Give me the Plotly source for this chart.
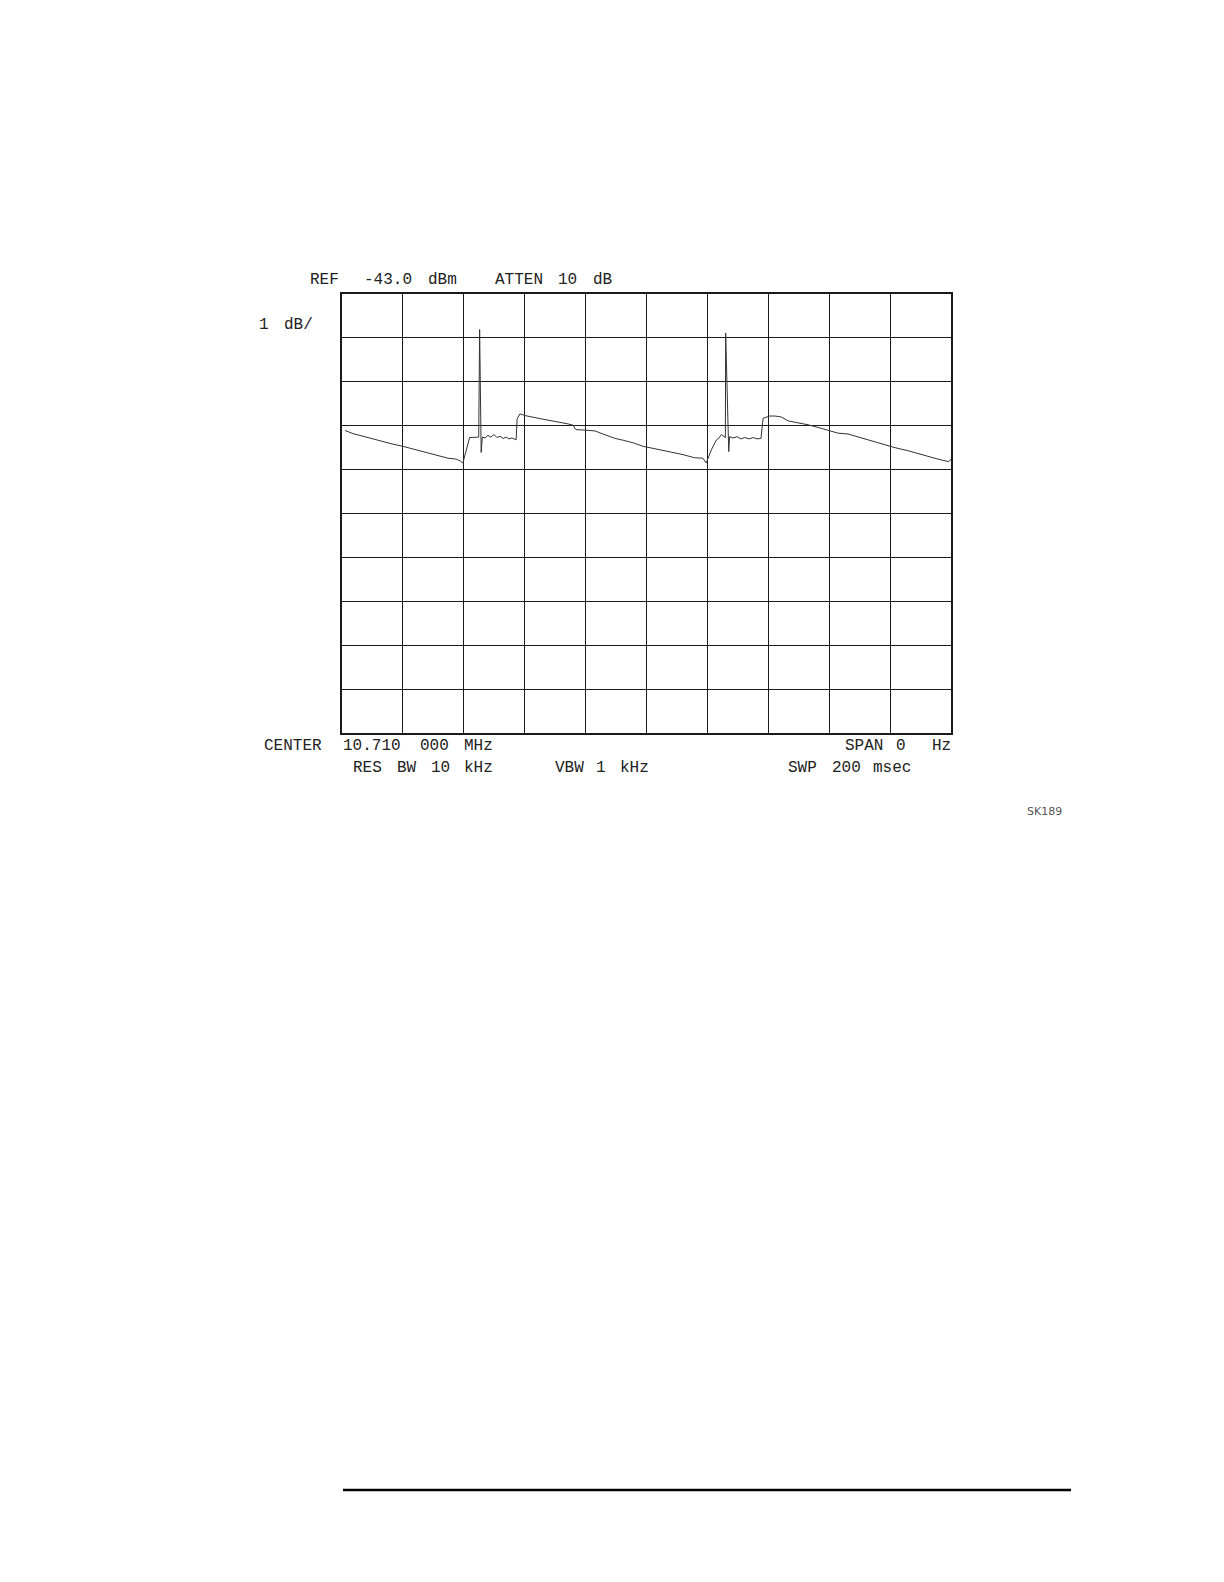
import plotly.graph_objects as go

# ---------------------------------------------------------------------------
# Zero-span trace (time in ms, level in dBm)
# ---------------------------------------------------------------------------
time_ms = [
    1.0, 3.6, 6.9, 10.2, 13.5, 16.7, 20.0, 23.3, 26.6, 29.9, 33.2, 34.8, 37.4, 38.8, 39.7,
    41.9, 44.9, 45.2, 45.7, 46.1,
    47.0, 47.9, 48.9, 49.9, 50.9, 51.9, 52.9, 53.9, 54.8, 55.8, 57.2,
    57.5, 58.4, 60.2, 64.4, 67.7, 71.0, 74.3, 75.9, 76.8, 79.8, 83.1, 85.7, 89.7, 92.3,
    95.6, 98.9, 100.5, 103.8, 108.0, 112.0, 115.8, 118.5, 119.6,
    121.3, 122.9, 123.8, 124.6, 125.9, 126.0, 127.0, 127.3,
    128.4, 129.7, 131.0, 132.3, 133.7, 135.0, 136.3, 137.6,
    138.3, 140.5, 142.2, 144.2, 146.5, 149.8, 153.1, 157.4, 160.3, 162.9, 166.2, 170.1,
    173.7, 177.7, 181.6, 185.9, 190.2, 194.1, 197.4, 199.3, 200.0,
]
level_dbm = [
    -46.11, -46.18, -46.24, -46.30, -46.37, -46.42, -46.47, -46.53, -46.58, -46.64, -46.70, -46.74, -46.76, -46.80, -46.85,
    -46.27, -46.26, -43.81, -46.61, -46.26,
    -46.28, -46.22, -46.26, -46.20, -46.27, -46.24, -46.29, -46.26, -46.30, -46.28, -46.32,
    -45.85, -45.73, -45.77, -45.83, -45.87, -45.91, -45.96, -45.99, -46.09, -46.10, -46.12, -46.19, -46.29, -46.33,
    -46.39, -46.47, -46.49, -46.53, -46.60, -46.66, -46.73, -46.74, -46.85,
    -46.55, -46.33, -46.28, -46.20, -46.27, -43.89, -46.59, -46.25,
    -46.28, -46.25, -46.30, -46.27, -46.30, -46.27, -46.30, -46.29,
    -45.83, -45.78, -45.78, -45.80, -45.89, -45.93, -45.98, -46.06, -46.12, -46.17, -46.19, -46.27,
    -46.35, -46.42, -46.50, -46.57, -46.66, -46.73, -46.79, -46.82, -46.76,
]

REF_LEVEL = -43.0
DB_PER_DIV = 1
SWEEP_MS = 200

# screen annotation text (token, centre x px, centre y px)
header_tokens = [("REF", 316, 272), ("-43.0", 380, 272), ("dBm", 434, 272),
                 ("ATTEN", 511, 272), ("10", 559, 272), ("dB", 594, 272)]
scale_tokens = [("1", 256, 317), ("dB/", 290, 317)]
footer_tokens = [("CENTER", 285, 738), ("10.710", 364, 738), ("000", 426, 738), ("MHz", 470, 738),
                 ("SPAN", 856, 738), ("0", 893, 738), ("Hz", 933, 738),
                 ("RES", 359, 760), ("BW", 399, 760), ("10", 432, 760), ("kHz", 470, 760),
                 ("VBW", 561, 760), ("1", 593, 760), ("kHz", 626, 760),
                 ("SWP", 794, 760), ("200", 838, 760), ("msec", 884, 760)]

# page geometry (px)
W, H = 1224, 1582
PLOT_L, PLOT_R, PLOT_T, PLOT_B = 334, 943, 286, 725


def px_x(px):
    return (px - PLOT_L) / (PLOT_R - PLOT_L)


def px_y(py):
    return (PLOT_B - py) / (PLOT_B - PLOT_T)


FONT = dict(family="Liberation Mono, DejaVu Sans Mono, monospace", size=16, color="#222222")

fig = go.Figure()
fig.add_trace(go.Scatter(
    x=time_ms, y=level_dbm, mode="lines",
    line=dict(color="#333333", width=1),
    hoverinfo="skip", showlegend=False,
))

annotations = []
for text, cx, cy in header_tokens + scale_tokens + footer_tokens:
    annotations.append(dict(
        text=text, x=px_x(cx), y=px_y(cy), xref="paper", yref="paper",
        xanchor="center", yanchor="middle", showarrow=False, font=FONT,
    ))
annotations.append(dict(
    text="SK189", x=px_x(1036), y=px_y(803), xref="paper", yref="paper",
    xanchor="center", yanchor="middle", showarrow=False,
    font=dict(family="DejaVu Sans, sans-serif", size=11, color="#555555"),
))

fig.update_layout(
    width=W, height=H, autosize=False,
    paper_bgcolor="white", plot_bgcolor="white",
    margin=dict(l=PLOT_L, r=W - PLOT_R, t=PLOT_T, b=H - PLOT_B, pad=0),
    annotations=annotations,
    shapes=[dict(
        type="line", xref="paper", yref="paper",
        x0=px_x(335), x1=px_x(1063), y0=px_y(1482), y1=px_y(1482),
        line=dict(color="black", width=2.5),
    )],
)
fig.update_xaxes(
    range=[0, SWEEP_MS], dtick=SWEEP_MS / 10, tick0=0,
    showgrid=True, gridcolor="#1a1a1a", gridwidth=1.3,
    showline=True, linecolor="#1a1a1a", linewidth=1.5, mirror=True,
    showticklabels=False, ticks="", zeroline=False,
)
fig.update_yaxes(
    range=[REF_LEVEL - 10 * DB_PER_DIV, REF_LEVEL], dtick=DB_PER_DIV, tick0=REF_LEVEL,
    showgrid=True, gridcolor="#1a1a1a", gridwidth=1.3,
    showline=True, linecolor="#1a1a1a", linewidth=1.5, mirror=True,
    showticklabels=False, ticks="", zeroline=False,
)

fig.write_html("out.html")
